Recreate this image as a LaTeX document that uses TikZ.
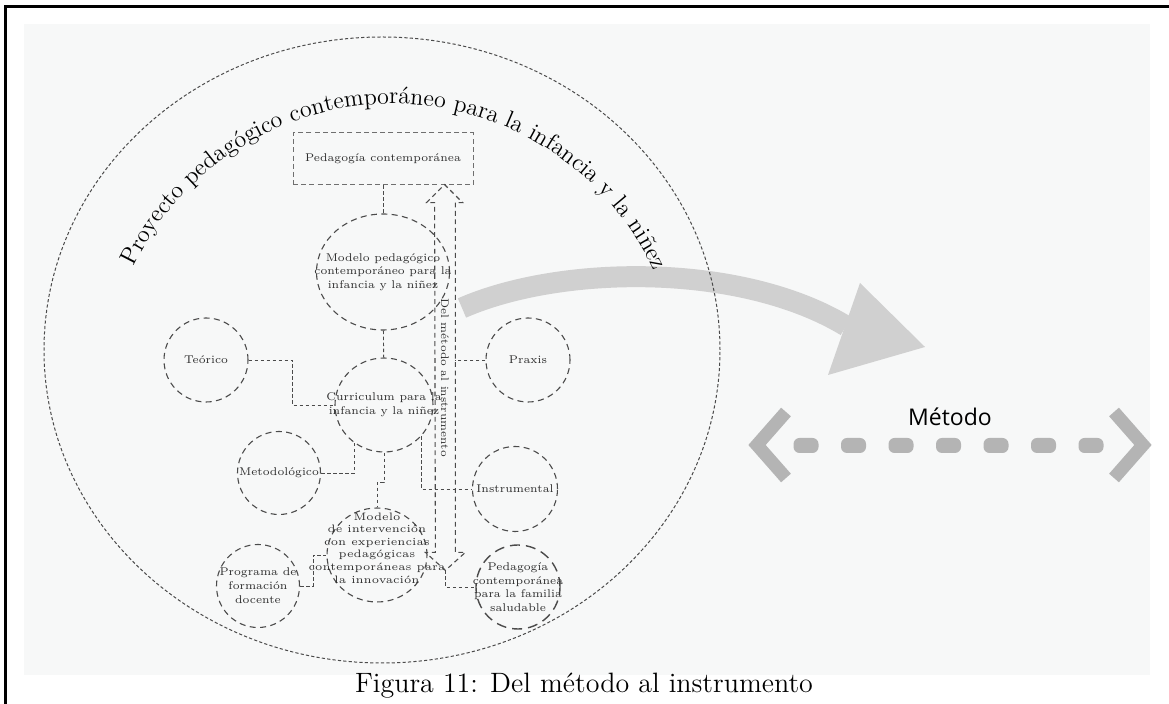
\documentclass[tikz,border=0pt]{standalone}
\usepackage{fontspec}
\newfontfamily\opensans{Open Sans}
\usetikzlibrary{shapes.geometric, decorations.text}

\definecolor{linegray}{RGB}{75,75,75}
\definecolor{txtgray}{RGB}{45,45,45}
\definecolor{bgtint}{RGB}{247,248,248}
\definecolor{bandgray}{RGB}{208,208,208}
\definecolor{chevgray}{RGB}{180,180,180}

\tikzset{
    bubble/.style={ellipse, draw=linegray, line width=0.55pt, dash pattern=on 3pt off 2.2pt, inner sep=0pt},
    lbl/.style={font=\fontsize{5.6}{6.8}\selectfont, align=center, text=txtgray},
    link/.style={draw=linegray, line width=0.45pt, dash pattern=on 1.8pt off 1.2pt},
}

\begin{document}
\begin{tikzpicture}[x=0.5pt, y=-0.5pt]
    \useasboundingbox (0,0) rectangle (1169,704);

    % Page frame and tinted backdrop
    \fill[bgtint] (24,24) rectangle (1150,675);
    \draw[line width=1.5pt] (5,704) -- (5,7) -- (1169,7);

    % Curved grey arrow
    \draw[bandgray, line width=10.5pt] (462,308) .. controls (560,265) and (740,262) .. (846,326);
    \fill[bandgray] (860,283) -- (925,347) -- (828,375) -- cycle;

    % Outer circle and its title
    \node[ellipse, draw=linegray, line width=0.5pt, dash pattern=on 1.6pt off 1.1pt,
          minimum width=338pt, minimum height=313pt] (outer) at (382,350) {};
    \path[decorate, decoration={text along path, text align=center,
          text={|\fontsize{12}{13}\selectfont|Proyecto pedagógico contemporáneo para la infancia y la niñez}}]
        (393,392) ++(203:288) arc[start angle=203, end angle=338, radius=288];

    % Define nodes
    \node[draw=linegray!80, line width=0.5pt, dash pattern=on 2.5pt off 1.6pt,
          minimum width=90pt, minimum height=26pt, lbl] (pedag) at (383,159) {Pedagogía contemporánea};
    \node[bubble, minimum width=66.5pt, minimum height=58pt,
          label={[lbl]center:Modelo pedagógico\\contemporáneo para la\\infancia y la niñez}] (modelo) at (383,272) {};
    \node[bubble, minimum size=42pt, label={[lbl]center:Teórico}] (teorico) at (206,360) {};
    \node[bubble, minimum size=42pt, label={[lbl]center:Praxis}] (praxis) at (528,360) {};
    \node[bubble, minimum width=49pt, minimum height=47pt,
          label={[lbl]center:Curriculum para la\\infancia y la niñez}] (curric) at (384,405) {};
    \node[bubble, minimum size=41.5pt, label={[lbl]center:Metodológico}] (metodo) at (279,473) {};
    \node[bubble, minimum size=42.5pt, label={[lbl]center:Instrumental}] (instrum) at (515,489) {};
    \node[bubble, minimum width=50pt, minimum height=47pt,
          label={[lbl, font=\fontsize{5.4}{6.3}\selectfont, yshift=3.5pt]center:Modelo\\de intervención\\con experiencias\\pedagógicas\\contemporáneas para\\la innovación}] (interv) at (377,555) {};
    \node[bubble, minimum size=41.5pt,
          label={[lbl, font=\fontsize{5.6}{7}\selectfont]center:Programa de\\formación\\docente}] (programa) at (258,586) {};
    \node[bubble, line width=0.7pt, dash pattern=on 5pt off 3pt, minimum size=42pt,
          label={[lbl]center:Pedagogía\\contemporánea\\para la familia\\saludable}] (familia) at (518,587) {};

    % Double arrow between the two levels: the text node is the shaft
    \node[rotate=-90, lbl, font=\fontsize{5.5}{6}\selectfont, inner sep=0pt,
          minimum width=174.5pt, minimum height=10pt] (delmet) at (445,377.5) {Del método al instrumento};
    \draw[linegray, line width=0.55pt, dash pattern=on 2.4pt off 1.8pt]
        (delmet.north west) -- (delmet.north east) -- ++(10,0) -- ++(-20,18) coordinate (tipS)
        -- ++(-20,-18) -- ++(10,0) -- (delmet.south west) -- ++(-8,0) -- ++(18,-18) coordinate (tipN)
        -- ++(18,18) -- cycle;

    % Method arrow on the right
    \node[font=\opensans\fontsize{11.5}{13}\selectfont] (metlbl) at (950,417) {Método};
    \draw[chevgray, line width=6.5pt] (786,412) -- (757,445) -- (786,478);
    \draw[chevgray, line width=6.5pt] (1114,412) -- (1143,445) -- (1114,478);
    \foreach \i in {0,...,6}
        \fill[chevgray, rounded corners=3pt] ({793.5+47.5*\i},438) rectangle ++(25,15);

    % Caption
    \node[font=\fontsize{14}{16}\selectfont] (caption) at (584,686) {Figura 11: Del método al instrumento};

    % Draw edges
    \draw[link] (pedag) -- (modelo);
    \draw[link] (modelo) -- (curric);
    \draw[link] (teorico.east) -- ++(44,0) |- (curric.west);
    \draw[link] (metodo.east) -| (curric.-128);
    \draw[link] (curric.south) -- ++(0,30) -| (interv.north);
    \draw[link] (curric.-40) |- (instrum.west);
    \draw[link] (programa.east) -- ++(13,0) |- (interv.west);
    \draw[link] (praxis.west) -- (praxis.west -| delmet.north);
    \draw[link] (tipS) |- (familia.west);
\end{tikzpicture}
\end{document}
